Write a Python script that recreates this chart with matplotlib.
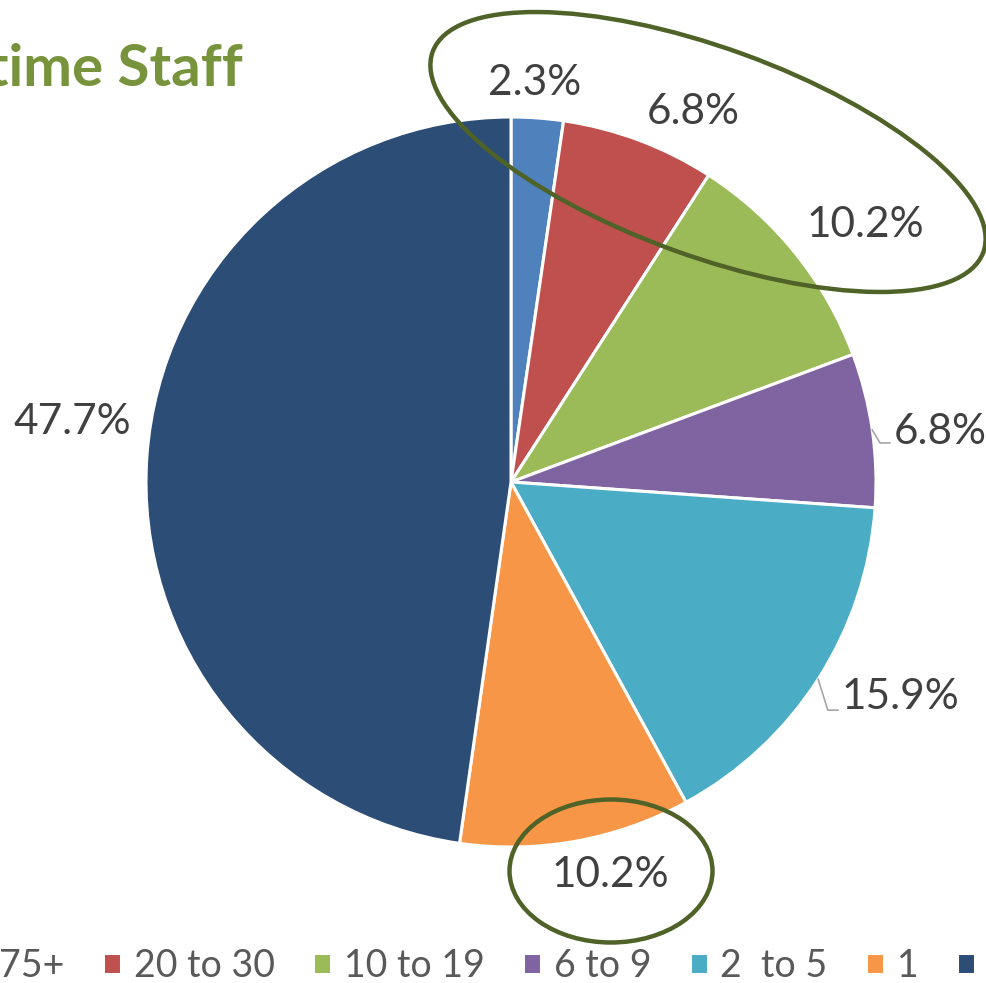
import numpy as np
import matplotlib
matplotlib.use("Agg")
import matplotlib.pyplot as plt
from matplotlib.patches import Ellipse

# data
groups = ["75+", "20 to 30", "10 to 19", "6 to 9", "2  to 5", "1", "0"]
shares = [2.3, 6.8, 10.2, 6.8, 15.9, 10.2, 47.7]
colors = ["#4F81BD", "#C0504D", "#9BBB59", "#8064A2", "#4BACC6", "#F79646", "#2C4D75"]
title = "Full-time Staff"

# label positions (pie radius units) and which ones get a leader line
label_xy = [(0.066, 1.093), (0.499, 1.014), (0.970, 0.704), (1.175, 0.137),
            (1.066, -0.589), (0.271, -1.077), (-1.203, 0.164)]
leaders = {3: [(1.011, 0.107), (1.038, 0.107)],
           4: [(0.868, -0.625), (0.896, -0.625)]}

plt.rcParams['font.family'] = ['Lato', 'DejaVu Sans']

W, H = 986, 983
cx, cy, R = 511, 482, 365

fig = plt.figure(figsize=(W / 100, H / 100), dpi=100)
ax = fig.add_axes([0, 0, 1, 1])

wedges, _ = ax.pie(shares, colors=colors, startangle=90, counterclock=False,
                   wedgeprops=dict(edgecolor="white", linewidth=2.2))

for i, (x, y) in enumerate(label_xy):
    ax.text(x, y, "%.1f%%" % shares[i], fontsize=30.5, color="#404040",
            ha="center", va="center")

# leader lines
total = sum(shares)
cum = np.cumsum([0] + shares)
for i, pts in leaders.items():
    mid = np.deg2rad(90 - 360 * (cum[i] + shares[i] / 2) / total)
    xs = [np.cos(mid)] + [p[0] for p in pts]
    ys = [np.sin(mid)] + [p[1] for p in pts]
    ax.plot(xs, ys, color="#A6A6A6", lw=1.2)

# highlight ellipses
ax.add_patch(Ellipse((197 / R, -(152 - cy) / R), 586 / R, 208 / R, angle=-20,
                     fill=False, edgecolor="#4F6228", lw=3.2))
ax.add_patch(Ellipse((100 / R, -(871 - cy) / R), 203 / R, 143 / R,
                     fill=False, edgecolor="#4F6228", lw=3.2))

ax.set_xlim(-cx / R, (W - cx) / R)
ax.set_ylim(-(H - cy) / R, cy / R)
ax.set_aspect("auto")
ax.axis("off")

fig.text(243 / W, 1 - 70 / H, title, fontsize=42, fontweight="bold",
         color="#77933C", ha="right", va="center")

fig.legend(wedges, groups, loc="center left", bbox_to_anchor=(-31 / W, 1 - 966 / H),
           ncol=7, frameon=False, fontsize=27, labelcolor="#595959",
           handlelength=0.48, handleheight=0.48, handletextpad=0.33,
           columnspacing=1.03, borderpad=0, borderaxespad=0)

fig.savefig("out.png", dpi=100)
